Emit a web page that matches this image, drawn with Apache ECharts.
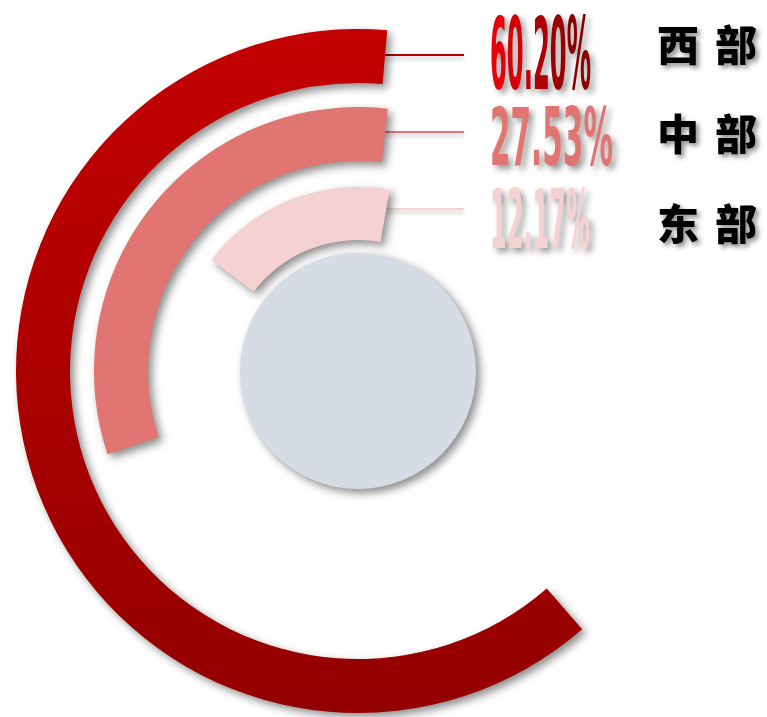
<!DOCTYPE html>
<html>
<head>
<meta charset="utf-8">
<script src="https://cdn.jsdelivr.net/npm/echarts@6/dist/echarts.min.js"></script>
<style>
  html, body { margin: 0; padding: 0; background: #fff; }
  #chart { width: 767px; height: 717px; }
</style>
</head>
<body>
<div id="chart"></div>
<script>
// data
const regions = ['西部', '中部', '东部']
const shares = [60.20, 27.53, 12.17]

// styles
const center = [358, 371]
const ringRadius = [[288, 342], [210, 264], [131, 184]]
const ringStart = [85.1, 83.5, 80.1]
const ringColors = [
  new echarts.graphic.LinearGradient(0, 0, 0, 1, [
    { offset: 0, color: '#C40000' },
    { offset: 1, color: '#940000' },
  ]),
  '#E07571',
  '#F5D1D1',
]
const lineColors = ['#B00000', '#E07571', '#F5D1D1']
const pctColors = [['#E8000A', '#880000'], ['#E07571', '#E07571'], ['#F5D1D1', '#F5D1D1']]
const pctSizes = [99, 80, 82]
const pctWidths = [101, 123, 100]
const shadow = {
  shadowColor: 'rgba(0,0,0,0.45)',
  shadowBlur: 8,
  shadowOffsetX: 4,
  shadowOffsetY: 4,
}
const pctFont = '"Liberation Sans Narrow", "DejaVu Sans Condensed", "Liberation Sans", sans-serif'

const chart = echarts.init(document.getElementById('chart'))

const polar = []
const angleAxis = []
const radiusAxis = []
const series = []
regions.forEach((name, i) => {
  polar.push({ center: center, radius: ringRadius[i] })
  angleAxis.push({
    polarIndex: i,
    type: 'value',
    min: -6.3,
    max: 99.7,
    startValue: -6.3,
    startAngle: ringStart[i],
    clockwise: false,
    show: false,
  })
  radiusAxis.push({
    polarIndex: i,
    type: 'category',
    data: [name],
    show: false,
  })
  series.push({
    type: 'bar',
    coordinateSystem: 'polar',
    polarIndex: i,
    data: [shares[i]],
    barCategoryGap: '0%',
    silent: true,
    itemStyle: { color: ringColors[i], ...shadow },
  })
})

// grey disc in the middle
series.push({
  type: 'pie',
  center: center,
  radius: [0, 118],
  silent: true,
  label: { show: false },
  data: [{ value: 1 }],
  itemStyle: { color: '#D6DCE5', ...shadow },
})

const option = {
  backgroundColor: '#fff',
  animation: false,
  polar: polar,
  angleAxis: angleAxis,
  radiusAxis: radiusAxis,
  grid: [
    { left: 385, width: 79, top: 55, height: 154 }, // leader lines
    { left: 762, right: 3, top: 45, height: 179 }, // region names
    { left: 490, width: 1, top: 53, height: 166 }, // percentages
  ],
  xAxis: [0, 1, 2].map((g) => ({ gridIndex: g, type: 'value', min: 0, max: 1, show: false })),
  yAxis: [
    {
      gridIndex: 0,
      type: 'category',
      data: regions,
      inverse: true,
      boundaryGap: false,
      axisLine: { show: false },
      axisTick: { show: false },
      axisLabel: { show: false },
      splitLine: {
        show: true,
        interval: 0,
        lineStyle: {
          color: lineColors,
          width: 2,
          shadowColor: 'rgba(0,0,0,0.25)',
          shadowBlur: 4,
          shadowOffsetY: 3,
        },
      },
    },
    {
      gridIndex: 1,
      type: 'category',
      data: regions,
      inverse: true,
      boundaryGap: false,
      axisLine: { show: false },
      axisTick: { show: false },
      splitLine: { show: false },
      axisLabel: {
        interval: 0,
        margin: 5,
        color: '#000',
        fontSize: 42,
        fontWeight: 900,
        fontFamily: '"Noto Sans CJK SC", sans-serif',
        formatter: (v) => v.split('').join('{sp| }'),
        rich: { sp: { width: 16 } },
        textShadowColor: 'rgba(0,0,0,0.45)',
        textShadowBlur: 5,
        textShadowOffsetX: 3,
        textShadowOffsetY: 3,
      },
    },
    {
      gridIndex: 2,
      type: 'category',
      data: regions,
      inverse: true,
      boundaryGap: false,
      show: false,
    },
  ],
  series: series,
}

chart.setOption(option)

// percentage labels: tall condensed figures, squeezed horizontally
const ctx = document.createElement('canvas').getContext('2d')

const graphic = regions.map((name, i) => {
  const pos = chart.convertToPixel({ gridIndex: 2 }, [0, name])
  const text = shares[i].toFixed(2) + '%'
  const size = pctSizes[i]
  ctx.font = 'bold ' + size + 'px ' + pctFont
  const squeeze = pctWidths[i] / ctx.measureText(text).width
  const chars = text.split('')
  const rich = {}
  chars.forEach((c, k) => {
    rich['c' + k] = {
      fill: echarts.color.lerp(k / (chars.length - 1), pctColors[i]),
      fontSize: size,
      fontWeight: 'bold',
      fontFamily: pctFont,
      textShadowColor: 'rgba(0,0,0,0.4)',
      textShadowBlur: 6,
      textShadowOffsetX: 4,
      textShadowOffsetY: 4,
    }
  })
  return {
    type: 'text',
    x: pos[0],
    y: pos[1] + size * 0.1,
    scaleX: squeeze,
    silent: true,
    style: {
      text: chars.map((c, k) => '{c' + k + '|' + c + '}').join(''),
      rich: rich,
      font: 'bold ' + size + 'px ' + pctFont,
      align: 'left',
      verticalAlign: 'middle',
    },
  }
})

chart.setOption({ graphic: graphic })
</script>
</body>
</html>
